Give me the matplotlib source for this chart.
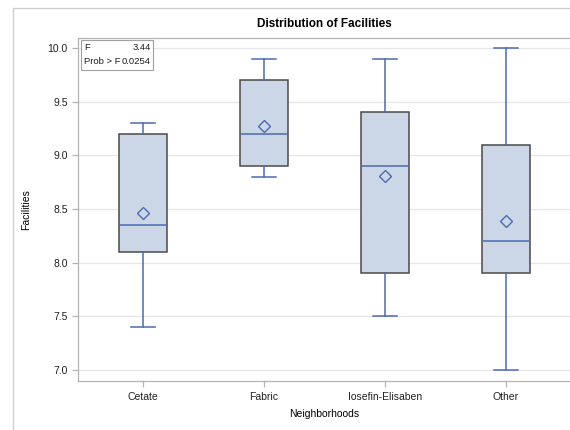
import matplotlib
matplotlib.use("Agg")
import matplotlib.pyplot as plt
from matplotlib.patches import Rectangle

categories = ["Cetate", "Fabric", "Iosefin-Elisaben", "Other"]
whisker_low = [7.4, 8.8, 7.5, 7.0]
q1 = [8.1, 8.9, 7.9, 7.9]
medians = [8.35, 9.2, 8.9, 8.2]
q3 = [9.2, 9.7, 9.4, 9.1]
whisker_high = [9.3, 9.9, 9.9, 10.0]
means = [8.46, 9.27, 8.81, 8.39]
yticks = [7.0, 7.5, 8.0, 8.5, 9.0, 9.5, 10.0]

plt.rcParams['font.family'] = ['Liberation Sans', 'DejaVu Sans']

W, H = 570, 430
fig = plt.figure(figsize=(W / 100, H / 100), dpi=100)

# outer border (left and top visible)
fig.add_artist(Rectangle((13 / W, -0.1), 1.2, (H - 8) / H + 0.1, transform=fig.transFigure,
                         fill=False, edgecolor="#cfcfcf", linewidth=1.0))

left, right, top, bottom = 78, 571, 38, 381
ax = fig.add_axes([left / W, 1 - bottom / H, (right - left) / W, (bottom - top) / H])

stats = []
for i, c in enumerate(categories):
    stats.append(dict(label=c, whislo=whisker_low[i], q1=q1[i], med=medians[i],
                      q3=q3[i], whishi=whisker_high[i], mean=means[i], fliers=[]))

blue = "#4a6cb3"
ax.bxp(stats, positions=range(len(categories)), widths=0.4, patch_artist=True,
       showmeans=True, showfliers=False,
       boxprops=dict(facecolor="#cbd6e6", edgecolor="#4a4a4a", linewidth=1.1),
       medianprops=dict(color=blue, linewidth=1.1),
       whiskerprops=dict(color=blue, linewidth=1.1),
       capprops=dict(color=blue, linewidth=1.1),
       capwidths=0.2,
       meanprops=dict(marker="D", markerfacecolor="none", markeredgecolor=blue,
                      markersize=6, markeredgewidth=1.0))

ax.set_xlim(-0.537, 3.54)
ax.set_ylim(6.897, 10.093)
ax.set_yticks(yticks)
ax.set_yticklabels([f"{v:.1f}" for v in yticks])
ax.set_xticks(range(len(categories)))
ax.set_xticklabels(categories)
ax.grid(axis="y", color="#e6e6e6", linewidth=0.9)
ax.set_axisbelow(True)

for s in ["left", "bottom", "top", "right"]:
    ax.spines[s].set_color("#b4b4b4")
    ax.spines[s].set_linewidth(0.9)
ax.tick_params(axis="both", colors="#b4b4b4", labelcolor="#202020", labelsize=7.5,
               length=4, width=0.9)
ax.tick_params(axis="x", pad=4)

ax.set_title("Distribution of Facilities", fontsize=8.5, fontweight="bold", pad=8)
ax.set_xlabel("Neighborhoods", fontsize=7.5, labelpad=5)
ax.set_ylabel("Facilities", fontsize=7.5, labelpad=12)

# inset statistics table
bx0, by0, bx1, by1 = 81, 40, 153, 70
fig.add_artist(Rectangle((bx0 / W, 1 - by1 / H), (bx1 - bx0) / W, (by1 - by0) / H,
                         transform=fig.transFigure, fill=True, facecolor="white",
                         edgecolor="#a0a0a0", linewidth=0.8))
fs = 6.8
fig.text(84 / W, 1 - 48 / H, "F", fontsize=fs, va="center", ha="left", color="#202020")
fig.text(151 / W, 1 - 48 / H, "3.44", fontsize=fs, va="center", ha="right", color="#202020")
fig.text(84 / W, 1 - 62 / H, "Prob > F", fontsize=fs, va="center", ha="left", color="#202020")
fig.text(151 / W, 1 - 62 / H, "0.0254", fontsize=fs, va="center", ha="right", color="#202020")

fig.savefig("out.png", dpi=100)
